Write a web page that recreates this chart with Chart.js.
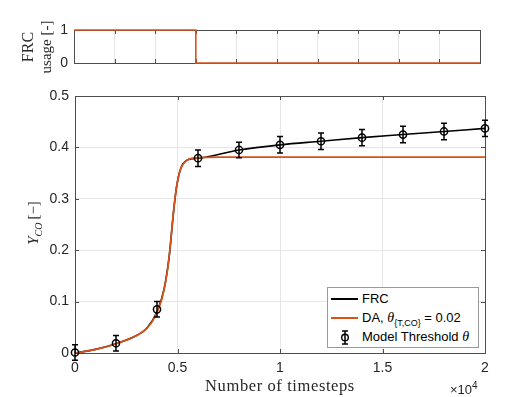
<!DOCTYPE html>
<html>
<head>
<meta charset="utf-8">
<script src="https://cdn.jsdelivr.net/npm/chart.js@4.4.0/dist/chart.umd.min.js"></script>
<style>
body { margin: 0; background: #fff; }
#wrap { position: relative; width: 529px; height: 397px; overflow: hidden; }
canvas { position: absolute; left: 0; top: 0; }
.lbl { position: absolute; font-family: "Liberation Serif", "Times New Roman", serif; color: #262626; white-space: nowrap; line-height: 1; }
.rot { transform: translate(-50%, -50%) rotate(-90deg); }
#legend { position: absolute; left: 327px; top: 287px; width: 150px; height: 59px; background: #fff; border: 1px solid #9a9a9a;
  font-family: "Liberation Sans", Arial, sans-serif; font-size: 13px; color: #000; }
#legend .row { position: absolute; left: 0; height: 16px; line-height: 16px; white-space: nowrap; }
#legend .sample { position: absolute; left: 3px; top: 7px; width: 27px; border-top: 2px solid #000; }
#legend .txt { position: absolute; left: 34px; top: 0; }
</style>
</head>
<body>
<div id="wrap">
  <canvas id="usageChart" width="529" height="397"></canvas>
  <canvas id="ycoChart" width="529" height="397"></canvas>

  <div class="lbl rot" style="left:28px; top:47px; font-size:16px;">FRC</div>
  <div class="lbl rot" style="left:46px; top:47px; font-size:15px;">usage [-]</div>
  <div class="lbl rot" style="left:35px; top:223px; font-size:15px;"><i>Y</i><sub style="font-size:10px;"><i>CO</i></sub>&thinsp;[&minus;]</div>
  <div class="lbl" style="left:280px; top:386px; font-size:16.5px; letter-spacing:0.6px; transform:translate(-50%,-50%);">Number of timesteps</div>
  <div class="lbl" style="left:450px; top:381px; font-size:13px; font-family:'Liberation Sans',Arial,sans-serif;">&times;10<sup style="font-size:10px;">4</sup></div>

  <div id="legend">
    <div class="row" style="top:3px;"><span class="sample"></span><span class="txt">FRC</span></div>
    <div class="row" style="top:22px;"><span class="sample" style="border-color:#D95319;"></span><span class="txt">DA, <i style="font-family:'Liberation Serif',serif;font-size:14px;">&theta;</i><sub style="font-size:9px;">{T,CO}</sub> = 0.02</span></div>
    <div class="row" style="top:41px;">
      <svg style="position:absolute;left:11px;top:1px;" width="12" height="15">
        <line x1="6" y1="1" x2="6" y2="14" stroke="#000" stroke-width="1.5"/>
        <line x1="3" y1="1" x2="9" y2="1" stroke="#000" stroke-width="1.5"/>
        <line x1="3" y1="14" x2="9" y2="14" stroke="#000" stroke-width="1.5"/>
        <circle cx="6" cy="7.5" r="3.3" fill="none" stroke="#000" stroke-width="1.4"/>
      </svg>
      <span class="txt">Model Threshold <i style="font-family:'Liberation Serif',serif;font-size:14px;">&theta;</i></span>
    </div>
  </div>
</div>

<script>
// top panel: FRC usage switch
const usageX = [0, 6000, 6000, 20000];
const usageY = [1, 1, 0, 0];

// model threshold points with error bars
const modelX = [0, 2000, 4000, 6000, 8000, 10000, 12000, 14000, 16000, 18000, 20000];
const modelY = [0.001, 0.019, 0.085, 0.379, 0.395, 0.405, 0.412, 0.419, 0.425, 0.431, 0.437];
const modelErr = [0.015, 0.015, 0.015, 0.016, 0.015, 0.016, 0.016, 0.016, 0.016, 0.016, 0.016];

// DA curve
const daX = [0, 500, 1000, 1500, 2000, 2500, 3000, 3250, 3500, 3750, 4000, 4200, 4350, 4500, 4600, 4700, 4800,
    4870, 4950, 5050, 5150, 5300, 5500, 5800, 6000, 7000, 20000];
const daY = [0, 0.003, 0.007, 0.012, 0.018, 0.025, 0.034, 0.040, 0.048, 0.060, 0.080, 0.100, 0.125, 0.158, 0.190, 0.230, 0.272,
    0.298, 0.322, 0.343, 0.358, 0.369, 0.376, 0.379, 0.380, 0.381, 0.381];

// FRC curve
const frcX = [0, 1000, 2000, 3000, 3500, 4000, 4350, 4600, 4800, 4950, 5150, 5500, 6000, 8000, 10000, 12000, 14000, 16000, 18000, 20000];
const frcY = [0, 0.007, 0.018, 0.034, 0.048, 0.080, 0.125, 0.190, 0.272, 0.322, 0.358, 0.376, 0.379, 0.395, 0.405, 0.412, 0.419, 0.425, 0.431, 0.437];

const frameColor = '#4d4d4d';
const gridColor = '#e6e6e6';
const orange = '#D95319';
const tickFont = { family: 'Liberation Sans, Arial, sans-serif', size: 14 };

function pts(xs, ys) {
    return xs.map((x, i) => ({ x: x, y: ys[i] }));
}

// MATLAB style box with inward ticks
const boxPlugin = {
    id: 'box',
    beforeDatasetsDraw(chart) {
        const { ctx, chartArea: a, scales } = chart;
        ctx.save();
        ctx.strokeStyle = frameColor;
        ctx.lineWidth = 1;
        ctx.strokeRect(a.left + 0.5, a.top + 0.5, a.right - a.left, a.bottom - a.top);
        ctx.beginPath();
        scales.x.ticks.forEach(t => {
            let px = Math.round(scales.x.getPixelForValue(t.value)) + 0.5;
            ctx.moveTo(px, a.bottom); ctx.lineTo(px, a.bottom - 4);
            ctx.moveTo(px, a.top); ctx.lineTo(px, a.top + 4);
        });
        scales.y.ticks.forEach(t => {
            let py = Math.round(scales.y.getPixelForValue(t.value)) + 0.5;
            ctx.moveTo(a.left, py); ctx.lineTo(a.left + 4, py);
            ctx.moveTo(a.right, py); ctx.lineTo(a.right - 4, py);
        });
        ctx.stroke();
        ctx.restore();
    }
};

const errorBarPlugin = {
    id: 'errorBars',
    afterDatasetsDraw(chart) {
        const { ctx, scales } = chart;
        ctx.save();
        ctx.strokeStyle = '#000';
        ctx.lineWidth = 1.5;
        ctx.beginPath();
        for (let i = 0; i < modelX.length; i++) {
            let px = scales.x.getPixelForValue(modelX[i]);
            let y1 = scales.y.getPixelForValue(modelY[i] - modelErr[i]);
            let y2 = scales.y.getPixelForValue(modelY[i] + modelErr[i]);
            ctx.moveTo(px, y1); ctx.lineTo(px, y2);
            ctx.moveTo(px - 3, y1); ctx.lineTo(px + 3, y1);
            ctx.moveTo(px - 3, y2); ctx.lineTo(px + 3, y2);
        }
        ctx.stroke();
        ctx.restore();
    }
};

new Chart(document.getElementById('usageChart').getContext('2d'), {
    type: 'scatter',
    data: {
        datasets: [{
            data: pts(usageX, usageY),
            showLine: true,
            borderColor: orange,
            borderWidth: 1.6,
            pointRadius: 0,
            clip: false
        }]
    },
    options: {
        responsive: false,
        animation: false,
        events: [],
        layout: { padding: { left: 0, right: 49, top: 30, bottom: 0 } },
        plugins: { legend: { display: false }, tooltip: { enabled: false } },
        scales: {
            x: {
                type: 'linear', min: 0, max: 20000,
                afterFit: s => { s.height = 397 - 63; },
                ticks: { stepSize: 2000, display: false },
                grid: { color: gridColor, drawTicks: false },
                border: { display: false }
            },
            y: {
                min: 0, max: 1,
                afterFit: s => { s.width = 74; },
                ticks: { stepSize: 1, padding: 6, color: '#262626', font: tickFont },
                grid: { display: false, drawTicks: false },
                border: { display: false }
            }
        }
    },
    plugins: [boxPlugin]
});

new Chart(document.getElementById('ycoChart').getContext('2d'), {
    type: 'scatter',
    data: {
        datasets: [{
            label: 'Model Threshold',
            data: pts(modelX, modelY),
            pointRadius: 3.6,
            pointBorderWidth: 1.5,
            pointBorderColor: '#000',
            pointBackgroundColor: 'transparent',
            showLine: false,
            order: 0,
            clip: false
        }, {
            label: 'DA',
            data: pts(daX, daY),
            showLine: true,
            borderColor: orange,
            borderWidth: 1.7,
            pointRadius: 0,
            cubicInterpolationMode: 'monotone',
            order: 1,
            clip: false
        }, {
            label: 'FRC',
            data: pts(frcX, frcY),
            showLine: true,
            borderColor: '#000',
            borderWidth: 1.6,
            pointRadius: 0,
            cubicInterpolationMode: 'monotone',
            order: 2,
            clip: false
        }]
    },
    options: {
        responsive: false,
        animation: false,
        events: [],
        layout: { padding: { left: 0, right: 44, top: 96, bottom: 0 } },
        plugins: { legend: { display: false }, tooltip: { enabled: false } },
        scales: {
            x: {
                type: 'linear', min: 0, max: 20000,
                afterFit: s => { s.height = 397 - 353; },
                ticks: { stepSize: 5000, padding: 7, color: '#262626', font: tickFont,
                    callback: v => String(v / 10000) },
                grid: { color: gridColor, drawTicks: false },
                border: { display: false }
            },
            y: {
                min: 0, max: 0.5,
                afterFit: s => { s.width = 75; },
                ticks: { stepSize: 0.1, padding: 6, color: '#262626', font: tickFont,
                    callback: v => String(+v.toFixed(1)) },
                grid: { color: gridColor, drawTicks: false },
                border: { display: false }
            }
        }
    },
    plugins: [boxPlugin, errorBarPlugin]
});
</script>
</body>
</html>
